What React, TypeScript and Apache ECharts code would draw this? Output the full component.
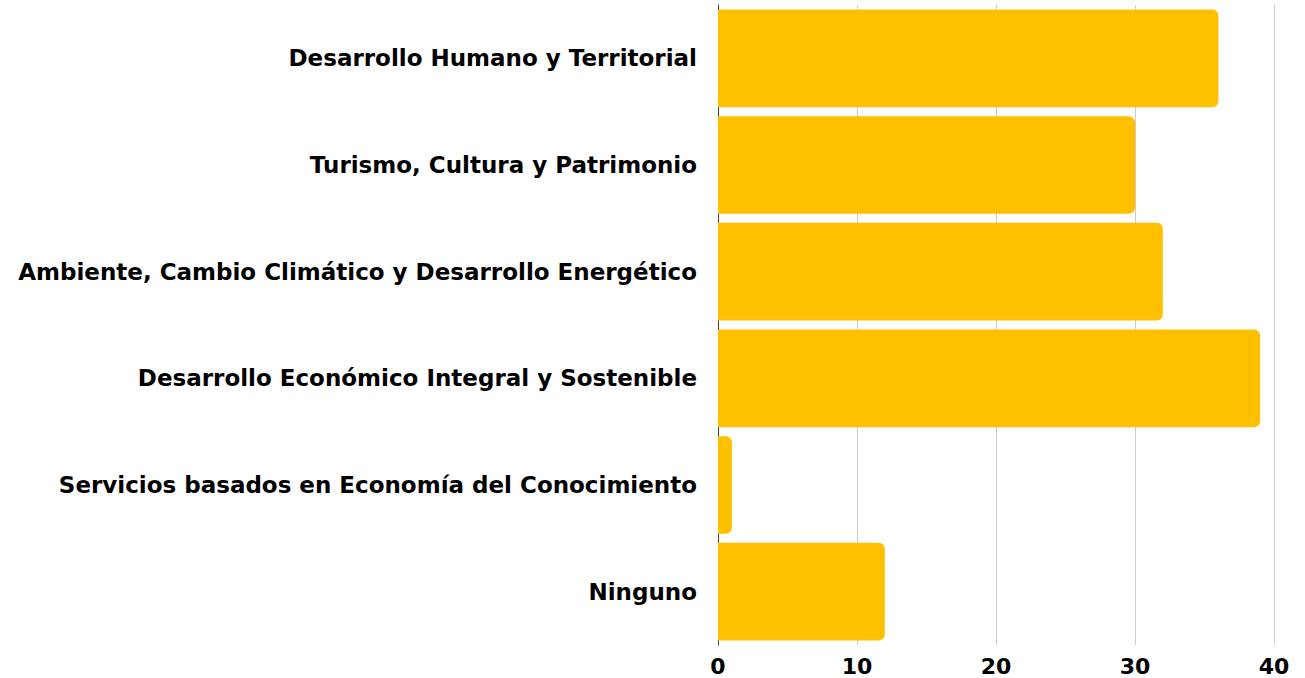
import React, { useEffect, useRef } from "react";
import * as echarts from "echarts";

const categories = [
  "Ninguno",
  "Servicios basados en Economía del Conocimiento",
  "Desarrollo Económico Integral y Sostenible",
  "Ambiente, Cambio Climático y Desarrollo Energético",
  "Turismo, Cultura y Patrimonio",
  "Desarrollo Humano y Territorial",
];
const values = [12, 1, 39, 32, 30, 36];
const xTicks = { min: 0, max: 40, interval: 10 };

export default function App() {
  const ref = useRef<HTMLDivElement>(null);
  useEffect(() => {
    if (!ref.current) return;
    const chart = echarts.init(ref.current, null, { renderer: "svg" });
    chart.setOption({
      animation: false,
      grid: { left: 718, right: 31, top: 5, bottom: 33, containLabel: false },
      xAxis: {
        type: "value",
        min: xTicks.min,
        max: xTicks.max,
        interval: xTicks.interval,
        axisLine: { show: false },
        axisTick: { show: false },
        splitLine: { show: true, lineStyle: { color: "#cccccc", width: 1 } },
        axisLabel: {
          color: "#000",
          fontFamily: "DejaVu Sans",
          fontWeight: "bold",
          fontSize: 22,
          margin: 10,
        },
      },
      yAxis: {
        type: "category",
        data: categories,
        axisLine: { show: true, lineStyle: { color: "#444", width: 1 } },
        axisTick: { show: false },
        axisLabel: {
          color: "#000",
          fontFamily: "DejaVu Sans",
          fontWeight: "bold",
          fontSize: 23,
          margin: 21,
        },
      },
      series: [
        {
          type: "bar",
          data: values,
          barCategoryGap: "8.5%",
          itemStyle: { color: "#FFC000", borderRadius: [0, 6, 6, 0] },
        },
      ],
    });
    return () => chart.dispose();
  }, []);
  return (
    <div
      ref={ref}
      style={{ position: "fixed", left: 0, top: 0, width: 1305, height: 678, background: "#fff" }}
    />
  );
}
